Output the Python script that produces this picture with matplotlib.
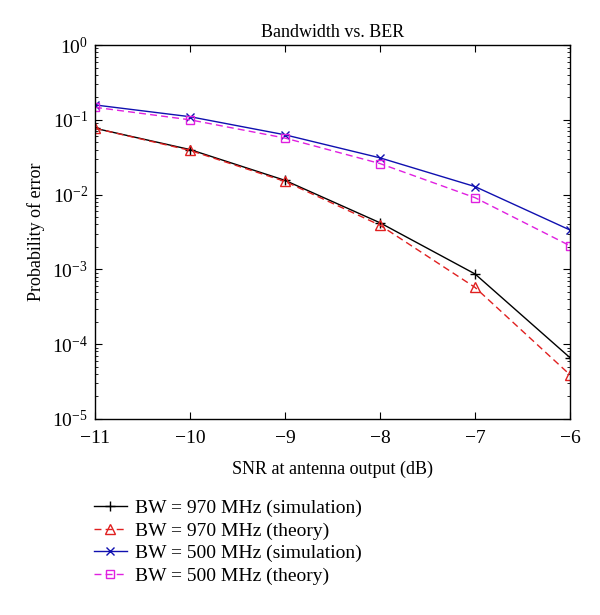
import matplotlib
matplotlib.use("Agg")
import matplotlib.pyplot as plt
from matplotlib.ticker import LogLocator, FixedLocator, NullLocator

plt.rcParams['font.family'] = ['Liberation Serif', 'DejaVu Serif']
plt.rcParams['mathtext.fontset'] = 'stix'

snr = [-11, -10, -9, -8, -7, -6]
bw970_sim = [0.077, 0.040, 0.0155, 0.0042, 0.00087, 0.000066]
bw970_theory = [0.077, 0.039, 0.0150, 0.0039, 0.000575, 0.000039]
bw500_sim = [0.158, 0.110, 0.063, 0.031, 0.0128, 0.00336]
bw500_theory = [0.147, 0.100, 0.057, 0.026, 0.0091, 0.00207]
labels = ['BW = 970 MHz (simulation)', 'BW = 970 MHz (theory)',
          'BW = 500 MHz (simulation)', 'BW = 500 MHz (theory)']

fig = plt.figure(figsize=(6, 6.15), dpi=100)
ax = fig.add_axes([95/600, 1-419/615, 475/600, 374/615])

l1, = ax.plot(snr, bw970_sim, color='black', lw=1.0, marker='+', ms=7, mew=1.0)
l2, = ax.plot(snr, bw970_theory, color='#e02020', lw=1.0, ls=(0, (5, 3)), marker='^',
              ms=7, mfc='none', mew=1.0)
l3, = ax.plot(snr, bw500_sim, color='#1010b0', lw=1.0, marker='x', ms=6, mew=1.0)
l4, = ax.plot(snr, bw500_theory, color='#e020e0', lw=1.0, ls=(0, (5, 3)), marker='s',
              ms=6, mfc='none', mew=1.0)

ax.set_yscale('log')
ax.set_xlim(-11, -6)
ax.set_ylim(1e-5, 1)
ax.xaxis.set_major_locator(FixedLocator(snr))
ax.xaxis.set_minor_locator(NullLocator())
ax.set_xticklabels(['\u2212%d' % abs(v) for v in snr])
ax.yaxis.set_major_locator(LogLocator(base=10, numticks=10))
ax.yaxis.set_minor_locator(LogLocator(base=10, subs=range(2, 10), numticks=10))
ax.tick_params(which='both', direction='in', top=True, right=True, labelsize=14)
ax.tick_params(axis='x', which='major', pad=8)
ax.tick_params(axis='y', which='major', pad=5)
ax.tick_params(which='major', length=5)
ax.tick_params(which='minor', length=2.5)
for s in ax.spines.values():
    s.set_linewidth(1.0)

ax.set_title('Bandwidth vs. BER', fontsize=13, pad=6)
ax.set_xlabel('SNR at antenna output (dB)', fontsize=13, labelpad=10)
ax.set_ylabel('Probability of error', fontsize=13, labelpad=5)

fig.legend([l1, l2, l3, l4], labels, loc='upper left',
           bbox_to_anchor=(76/600, 1-482/615), frameon=False, fontsize=14,
           handlelength=1.7, labelspacing=0.25, handletextpad=0.45)

fig.savefig('out.png', dpi=100)
